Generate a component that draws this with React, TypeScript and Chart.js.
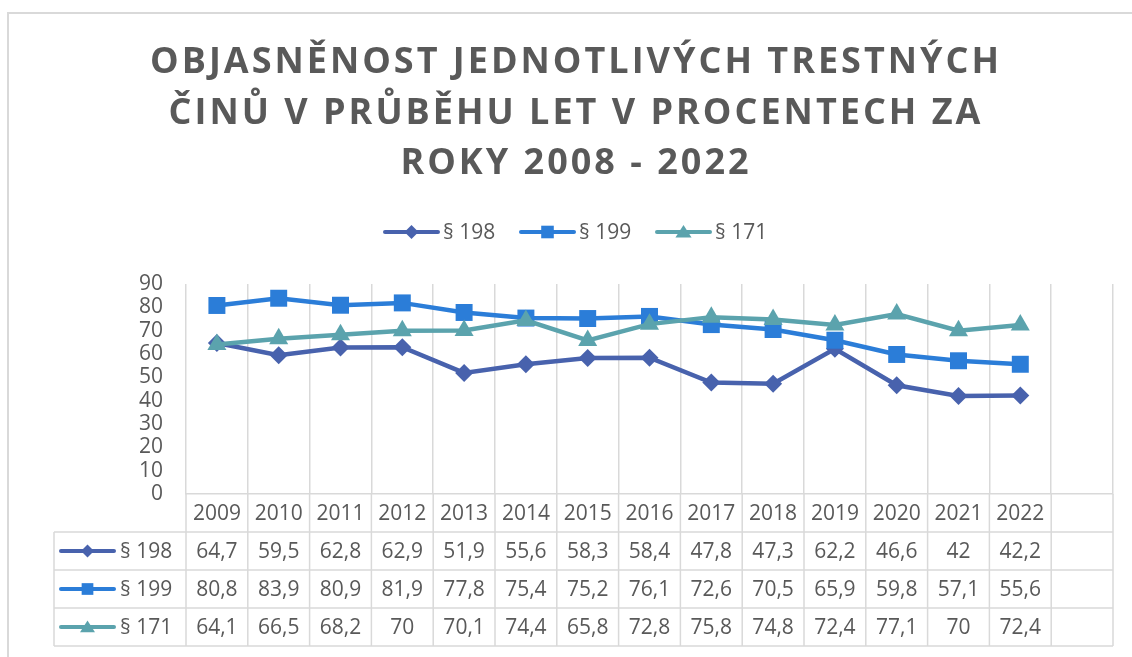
import React, { useEffect, useRef } from "react";
import { Chart, registerables } from "chart.js";

Chart.register(...registerables);

const years = ["2009", "2010", "2011", "2012", "2013", "2014", "2015", "2016", "2017", "2018", "2019", "2020", "2021", "2022"];
const categories = [...years, ""];
const s198 = [64.7, 59.5, 62.8, 62.9, 51.9, 55.6, 58.3, 58.4, 47.8, 47.3, 62.2, 46.6, 42, 42.2];
const s199 = [80.8, 83.9, 80.9, 81.9, 77.8, 75.4, 75.2, 76.1, 72.6, 70.5, 65.9, 59.8, 57.1, 55.6];
const s171 = [64.1, 66.5, 68.2, 70, 70.1, 74.4, 65.8, 72.8, 75.8, 74.8, 72.4, 77.1, 70, 72.4];
const seriesNames = ["§ 198", "§ 199", "§ 171"];
const seriesColors = ["#4862AD", "#2B7DD8", "#5BA3AD"];
const seriesStyles = ["rectRot", "rect", "triangle"];
const titleLines = ["OBJASNĚNOST JEDNOTLIVÝCH TRESTNÝCH", "ČINŮ V PRŮBĚHU LET V PROCENTECH ZA", "ROKY 2008 - 2022"];
const yTicks = { min: 0, max: 90, step: 10 };

const TEXT = "#595959";
const GRID = "#D9D9D9";
const FONT = '"Open Sans", "Liberation Sans", sans-serif';

function fmt(v: number) {
  return String(v).replace(".", ",");
}

function marker(ctx: CanvasRenderingContext2D, style: string, x: number, y: number, s: number, color: string) {
  ctx.save();
  ctx.fillStyle = color;
  ctx.beginPath();
  if (style === "rectRot") {
    ctx.moveTo(x, y - s);
    ctx.lineTo(x + s, y);
    ctx.lineTo(x, y + s);
    ctx.lineTo(x - s, y);
  } else if (style === "rect") {
    ctx.rect(x - s * 0.9, y - s * 0.9, s * 1.8, s * 1.8);
  } else {
    ctx.moveTo(x, y - s);
    ctx.lineTo(x + s * 1.15, y + s * 0.8);
    ctx.lineTo(x - s * 1.15, y + s * 0.8);
  }
  ctx.closePath();
  ctx.fill();
  ctx.restore();
}

function legendKey(ctx: CanvasRenderingContext2D, i: number, x0: number, x1: number, y: number, s: number) {
  ctx.save();
  ctx.strokeStyle = seriesColors[i];
  ctx.lineWidth = 4;
  ctx.lineCap = "round";
  ctx.beginPath();
  ctx.moveTo(x0, y);
  ctx.lineTo(x1, y);
  ctx.stroke();
  ctx.restore();
  marker(ctx, seriesStyles[i], (x0 + x1) / 2, y, s, seriesColors[i]);
}

const decorPlugin = {
  id: "decor",
  afterDraw(chart: any) {
    const ctx: CanvasRenderingContext2D = chart.ctx;
    const xs = chart.scales.x;
    const area = chart.chartArea;
    ctx.save();

    // frame
    ctx.strokeStyle = GRID;
    ctx.lineWidth = 2;
    ctx.beginPath();
    ctx.moveTo(8, 700);
    ctx.lineTo(8, 13);
    ctx.lineTo(1140, 13);
    ctx.stroke();

    // title
    ctx.fillStyle = TEXT;
    ctx.textAlign = "center";
    ctx.textBaseline = "middle";
    ctx.font = `bold 36px ${FONT}`;
    (ctx as any).letterSpacing = "3px";
    const tys = [63, 114, 164];
    titleLines.forEach((t, i) => ctx.fillText(t, 576, tys[i]));
    (ctx as any).letterSpacing = "0px";

    // legend
    ctx.font = `21px ${FONT}`;
    ctx.textAlign = "left";
    const lx = [385, 521, 657];
    seriesNames.forEach((n, i) => {
      legendKey(ctx, i, lx[i], lx[i] + 53, 232, 7);
      ctx.fillStyle = TEXT;
      ctx.fillText(n, lx[i] + 58, 233);
    });

    // data table
    const top = area.bottom;
    const rowH = 38;
    const rows = [top + rowH, top + 2 * rowH, top + 3 * rowH, top + 4 * rowH];
    const left = 54;
    const right = area.right;
    ctx.strokeStyle = GRID;
    ctx.lineWidth = 1.5;
    ctx.beginPath();
    rows.forEach((y) => {
      ctx.moveTo(left, y);
      ctx.lineTo(right, y);
    });
    ctx.moveTo(left, rows[0]);
    ctx.lineTo(left, rows[3]);
    const n = categories.length;
    const step = xs.getPixelForValue(1) - xs.getPixelForValue(0);
    for (let i = 0; i <= n; i++) {
      const gx = i === n ? right : xs.getPixelForValue(i) - step / 2;
      ctx.moveTo(gx, top);
      ctx.lineTo(gx, rows[3]);
    }
    ctx.stroke();

    ctx.fillStyle = TEXT;
    ctx.font = `21px ${FONT}`;
    ctx.textAlign = "center";
    ctx.textBaseline = "middle";
    years.forEach((yr, i) => ctx.fillText(yr, xs.getPixelForValue(i), top + rowH / 2 + 1));
    const all = [s198, s199, s171];
    all.forEach((arr, r) => {
      const cy = rows[r] + rowH / 2 + 1;
      arr.forEach((v, i) => {
        ctx.fillStyle = TEXT;
        ctx.textAlign = "center";
        ctx.fillText(fmt(v), xs.getPixelForValue(i), cy);
      });
      legendKey(ctx, r, 61, 114, cy - 1, 6.5);
      ctx.fillStyle = TEXT;
      ctx.textAlign = "left";
      ctx.fillText(seriesNames[r], 120, cy);
    });
    ctx.restore();
  },
};

export default function App() {
  const ref = useRef<HTMLCanvasElement | null>(null);
  useEffect(() => {
    if (!ref.current) return;
    const mk = (i: number, data: number[], radius: number, order: number) => ({
      label: seriesNames[i],
      data,
      borderColor: seriesColors[i],
      backgroundColor: seriesColors[i],
      pointBackgroundColor: seriesColors[i],
      pointBorderColor: seriesColors[i],
      pointBorderWidth: 0,
      pointStyle: seriesStyles[i],
      pointRadius: radius,
      borderWidth: 4.5,
      tension: 0,
      order,
    });
    const chart = new Chart(ref.current, {
      type: "line",
      data: {
        labels: categories,
        datasets: [mk(0, s198, 9, 3), mk(1, s199, 12, 2), mk(2, s171, 11, 1)],
      },
      options: {
        animation: false,
        responsive: true,
        maintainAspectRatio: false,
        layout: { padding: { top: 284, bottom: 163, right: 19, left: 0 } },
        plugins: { legend: { display: false }, title: { display: false }, tooltip: { enabled: false } },
        scales: {
          x: {
            type: "category",
            offset: true,
            grid: { offset: true, color: GRID, lineWidth: 1.5, drawTicks: false },
            border: { display: true, color: GRID, width: 1.5 },
            ticks: { display: false },
            afterFit: (s: any) => {
              s.height = 0;
            },
          },
          y: {
            min: yTicks.min,
            max: yTicks.max,
            ticks: {
              stepSize: yTicks.step,
              autoSkip: false,
              color: TEXT,
              font: { family: FONT, size: 21 },
              padding: 23,
            },
            grid: { display: false, drawTicks: false },
            border: { display: false },
            afterFit: (s: any) => {
              s.width = 186;
            },
          },
        },
      },
      plugins: [decorPlugin],
    } as any);
    return () => chart.destroy();
  }, []);
  return (
    <div style={{ position: "fixed", left: 0, top: 0, width: 1132, height: 657, background: "#fff" }}>
      <canvas ref={ref} />
    </div>
  );
}
